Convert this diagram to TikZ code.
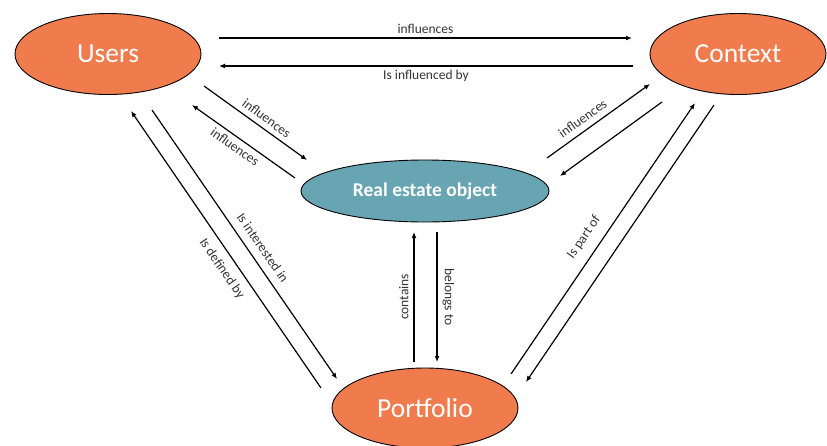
\documentclass[tikz,border=0pt]{standalone}
\usepackage{fontspec}
\setmainfont{Carlito}
\usetikzlibrary{shapes.geometric,arrows.meta}
\definecolor{orangefill}{RGB}{240,124,78}
\definecolor{tealfill}{RGB}{104,165,178}
\tikzset{
  ent/.style={ellipse, draw=black, line width=0.9pt, fill=orangefill, text=white, font=\fontsize{27.5}{32}\selectfont, inner sep=0pt},
  reo/.style={ellipse, draw=black, line width=0.9pt, fill=tealfill, text=white, font=\bfseries\fontsize{19.5}{22}\selectfont, inner sep=0pt},
  conn/.style={line width=1.2pt, -{Latex[length=6pt,width=5pt]}},
  lab/.style={font=\fontsize{13.5}{15}\selectfont, text=black!80, inner sep=3pt}
}
\begin{document}
\begin{tikzpicture}[x=1pt,y=-1pt]
\useasboundingbox (0,0) rectangle (827,445);
\node[ent, minimum width=186pt, minimum height=81pt] (U) at (108,54) {Users};
\node[ent, minimum width=176pt, minimum height=81pt] (C) at (738,54) {Context};
\node[reo, minimum width=248pt, minimum height=62pt] (R) at (425,191) {Real estate object};
\node[ent, minimum width=186pt, minimum height=80pt] (P) at (425,408) {Portfolio};

\draw[conn] ([shift={(111,-16)}]U.center) -- node[lab, above=1pt] {influences} ([shift={(-106,-16)}]C.center);
\draw[conn] ([shift={(-105,12)}]C.center) -- node[lab, below=1pt] {Is influenced by} ([shift={(111,12)}]U.center);

\draw[conn] ([shift={(96,32)}]U.center) -- node[lab, sloped, above=2pt, pos=0.55] {influences} ([shift={(-118,-31)}]R.center);
\draw[conn] ([shift={(-130,-13)}]R.center) -- node[lab, sloped, below=1pt, pos=0.53] {influences} ([shift={(84,51)}]U.center);

\draw[conn] ([shift={(-104,-20)}]P.center) -- node[lab, sloped, below=5pt, pos=0.46] {Is defined by} ([shift={(23,57)}]U.center);
\draw[conn] ([shift={(44,56)}]U.center) -- node[lab, sloped, above=5pt, pos=0.54] {Is interested in} ([shift={(-88,-29)}]P.center);

\draw[conn] ([shift={(-11,-46)}]P.center) -- node[lab, sloped, above=2pt] {contains} ([shift={(-11,41)}]R.center);
\draw[conn] ([shift={(12,41)}]R.center) -- node[lab, sloped, above=2pt] {belongs to} ([shift={(12,-46)}]P.center);

\draw[conn] ([shift={(122,-33)}]R.center) -- node[lab, sloped, above=3pt, pos=0.41] {influences} ([shift={(-88,30)}]C.center);
\draw[conn] ([shift={(-76,48)}]C.center) -- ([shift={(135,-15)}]R.center);

\draw[conn] ([shift={(86,-34)}]P.center) -- node[lab, sloped, above=7pt, pos=0.47] {Is part of} ([shift={(-43,49)}]C.center);
\draw[conn] ([shift={(-24,51)}]C.center) -- ([shift={(101,-26)}]P.center);
\end{tikzpicture}
\end{document}
